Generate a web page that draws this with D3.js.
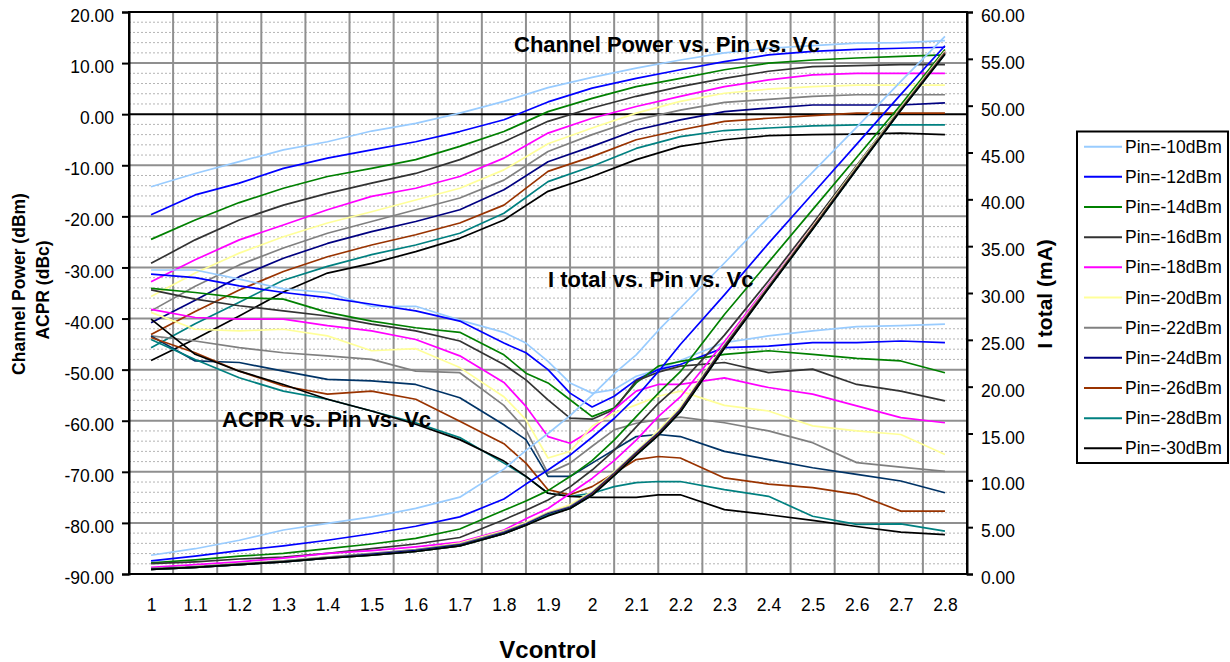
<!DOCTYPE html>
<html>
<head>
<meta charset="utf-8">
<script src="https://cdn.jsdelivr.net/npm/d3@7"></script>
<style>
  body { margin: 0; background: #fff; }
  svg text { font-family: "Liberation Sans", Arial, sans-serif; }
</style>
</head>
<body>
<div id="chart"></div>
<script>
// x values: channel power read every 0.1 V, ACPR and current a bit finer around the dip
const vcCoarse = [1.0, 1.1, 1.2, 1.3, 1.4, 1.5, 1.6, 1.7, 1.8, 1.9, 2.0, 2.1, 2.2, 2.3, 2.4, 2.5, 2.6, 2.7, 2.8];
const vcFine = [1.0, 1.1, 1.2, 1.3, 1.4, 1.5, 1.6, 1.7, 1.8, 1.85, 1.9, 1.95, 2.0, 2.05, 2.1, 2.15, 2.2, 2.3, 2.4, 2.5, 2.6, 2.7, 2.8];
const xTickLabels = ["1", "1.1", "1.2", "1.3", "1.4", "1.5", "1.6", "1.7", "1.8", "1.9", "2", "2.1", "2.2", "2.3", "2.4", "2.5", "2.6", "2.7", "2.8"];

const pinLabels = ["Pin=-10dBm", "Pin=-12dBm", "Pin=-14dBm", "Pin=-16dBm", "Pin=-18dBm", "Pin=-20dBm",
                   "Pin=-22dBm", "Pin=-24dBm", "Pin=-26dBm", "Pin=-28dBm", "Pin=-30dBm"];
const pinColors = ["#99ccff", "#0000ff", "#008000", "#333333", "#ff00ff", "#ffff99",
                   "#808080", "#000080", "#993300", "#008080", "#000000"];

// Channel power (dBm), left axis, on vcCoarse
const chPower = [
  [-14.2, -11.6, -9.3, -7.0, -5.4, -3.3, -1.8, 0.2, 2.5, 5.2, 7.2, 9.0, 10.6, 12.0, 12.9, 13.4, 13.9, 14.0, 14.4],
  [-19.7, -15.8, -13.5, -10.6, -8.6, -7.0, -5.4, -3.4, -1.1, 2.4, 5.1, 7.0, 8.7, 10.3, 11.6, 12.3, 12.7, 12.9, 13.1],
  [-24.5, -20.7, -17.3, -14.5, -12.2, -10.6, -8.9, -6.3, -3.4, 0.5, 3.1, 5.4, 7.0, 8.7, 10.0, 10.6, 11.0, 11.3, 11.6],
  [-29.2, -24.6, -20.7, -17.8, -15.5, -13.5, -11.6, -8.9, -5.4, -1.4, 1.2, 3.5, 5.4, 7.0, 8.4, 9.3, 9.5, 9.7, 9.7],
  [-32.8, -28.5, -24.6, -21.7, -18.7, -16.1, -14.5, -12.2, -8.6, -3.7, -0.8, 1.5, 3.5, 5.4, 6.7, 7.7, 8.0, 8.0, 8.0],
  [-35.7, -31.1, -27.2, -24.0, -21.3, -19.1, -16.8, -14.5, -10.9, -5.8, -2.7, 0.2, 2.5, 4.1, 4.9, 5.4, 5.7, 5.7, 5.7],
  [-38.5, -33.7, -29.5, -26.2, -23.3, -21.0, -18.7, -16.4, -12.9, -7.3, -4.0, -1.1, 0.8, 2.3, 2.9, 3.5, 3.8, 3.8, 3.8],
  [-40.8, -36.4, -31.8, -28.2, -25.3, -23.0, -21.0, -18.7, -14.8, -9.3, -6.3, -3.1, -1.1, 0.5, 1.2, 1.8, 1.8, 1.8, 2.2],
  [-43.1, -38.6, -34.4, -30.8, -27.9, -25.6, -23.6, -21.3, -17.8, -11.2, -8.3, -5.0, -3.1, -1.4, -0.8, -0.3, 0.2, 0.2, 0.2],
  [-45.7, -41.0, -36.8, -32.5, -29.8, -27.5, -25.6, -23.3, -19.4, -13.2, -10.2, -6.7, -4.4, -3.2, -2.7, -2.3, -2.1, -2.1, -2.1],
  [-48.2, -44.0, -39.5, -34.8, -31.1, -29.2, -26.9, -24.3, -20.7, -15.1, -12.2, -8.9, -6.3, -5.0, -4.2, -4.0, -3.9, -3.7, -4.0]
];

// ACPR (dBc), left axis, on vcFine
const acpr = [
  [-30.5, -30.5, -32.3, -34.2, -34.9, -37.6, -37.6, -40.3, -42.7, -44.8, -48.4, -52.6, -54.6, -53.9, -51.3, -50.0, -48.2, -44.7, -43.4, -42.4, -41.6, -41.4, -41.1],
  [-31.3, -32.0, -33.6, -34.9, -35.9, -37.2, -38.5, -40.5, -44.8, -46.7, -50.0, -54.6, -57.3, -55.2, -52.0, -50.0, -49.0, -45.7, -45.4, -44.7, -44.7, -44.4, -44.7],
  [-34.1, -34.9, -35.9, -36.2, -38.8, -40.5, -41.8, -42.7, -47.1, -50.7, -52.6, -55.9, -59.2, -57.5, -52.6, -49.3, -48.4, -47.0, -46.3, -47.0, -47.8, -48.3, -50.6],
  [-34.4, -36.2, -37.5, -38.5, -39.5, -41.1, -42.4, -44.4, -49.0, -52.0, -55.9, -59.5, -59.7, -57.8, -52.2, -50.5, -49.3, -48.6, -50.6, -49.9, -52.9, -54.2, -56.1],
  [-38.2, -39.8, -40.1, -40.1, -41.4, -42.4, -44.1, -47.3, -52.5, -57.2, -63.1, -64.4, -61.8, -57.8, -54.2, -52.9, -52.9, -51.6, -53.5, -54.8, -57.1, -59.4, -60.4],
  [-38.8, -42.1, -42.4, -42.1, -43.4, -46.3, -45.9, -49.6, -55.3, -59.8, -67.3, -66.0, -61.1, -58.5, -56.9, -55.2, -54.2, -57.0, -58.1, -61.0, -62.0, -62.7, -66.6],
  [-43.4, -44.4, -45.7, -46.7, -47.3, -48.0, -50.3, -50.6, -57.0, -61.8, -70.3, -68.3, -65.0, -61.8, -60.5, -59.8, -59.3, -60.4, -62.0, -64.3, -68.2, -69.1, -69.9],
  [-43.4, -48.3, -48.6, -50.3, -51.9, -52.2, -52.9, -55.5, -60.8, -63.7, -70.9, -70.9, -68.3, -65.7, -63.1, -62.7, -63.1, -66.0, -67.6, -69.2, -70.5, -71.8, -74.1],
  [-43.7, -46.7, -50.3, -53.2, -54.8, -54.2, -55.8, -60.1, -64.5, -68.3, -73.5, -74.5, -72.9, -70.3, -67.6, -67.0, -67.3, -71.2, -72.4, -73.1, -74.4, -77.7, -77.7],
  [-44.1, -48.0, -51.6, -54.2, -55.8, -58.1, -60.4, -63.3, -68.3, -70.9, -74.2, -74.8, -74.2, -72.9, -72.1, -71.9, -71.9, -73.5, -74.8, -78.7, -80.3, -80.2, -81.6],
  [-40.1, -47.0, -50.3, -52.9, -55.8, -58.1, -60.7, -63.7, -67.9, -70.9, -74.2, -74.8, -75.0, -75.0, -75.0, -74.5, -74.5, -77.4, -78.4, -79.5, -80.7, -81.8, -82.3]
];

// I total (mA), right axis, on vcFine
const iTotal = [
  [2.0, 2.7, 3.6, 4.7, 5.4, 6.1, 7.0, 8.2, 11.2, 13.2, 15.0, 16.9, 19.1, 21.4, 23.4, 26.0, 28.4, 33.2, 38.1, 42.9, 47.7, 52.6, 57.4],
  [1.4, 1.9, 2.5, 3.0, 3.6, 4.3, 5.1, 6.1, 8.0, 9.6, 11.1, 12.7, 14.6, 16.6, 18.9, 21.6, 24.5, 29.8, 35.3, 40.6, 45.9, 51.2, 56.4],
  [1.2, 1.5, 1.9, 2.2, 2.7, 3.2, 3.8, 4.8, 6.8, 7.8, 8.9, 10.4, 12.1, 14.3, 16.8, 19.3, 21.6, 27.7, 33.3, 38.9, 44.5, 50.1, 56.0],
  [1.1, 1.3, 1.6, 1.8, 2.2, 2.7, 3.2, 3.9, 5.8, 6.8, 7.9, 9.3, 11.1, 13.2, 15.7, 18.2, 20.3, 25.5, 31.3, 37.4, 43.6, 49.8, 55.8],
  [0.7, 1.0, 1.3, 1.7, 2.2, 2.5, 2.9, 3.4, 4.7, 5.9, 7.0, 8.6, 10.2, 12.1, 14.3, 16.8, 18.9, 24.8, 30.9, 37.1, 43.4, 49.6, 55.8],
  [0.5, 0.8, 1.1, 1.4, 1.8, 2.1, 2.6, 3.3, 4.6, 5.5, 6.6, 7.4, 8.8, 10.9, 13.1, 15.3, 17.8, 24.5, 30.8, 37.1, 43.5, 49.8, 55.8],
  [0.6, 0.8, 1.1, 1.4, 1.8, 2.2, 2.6, 3.2, 4.5, 5.4, 6.5, 7.2, 8.7, 10.8, 13.0, 15.1, 17.6, 24.4, 30.7, 37.0, 43.4, 49.7, 55.7],
  [0.5, 0.7, 1.0, 1.3, 1.7, 2.1, 2.5, 3.1, 4.4, 5.3, 6.4, 7.1, 8.6, 10.7, 12.9, 15.0, 17.5, 24.3, 30.6, 36.9, 43.3, 49.6, 55.6],
  [0.5, 0.7, 1.0, 1.3, 1.7, 2.0, 2.4, 3.0, 4.3, 5.2, 6.3, 7.0, 8.5, 10.6, 12.8, 14.9, 17.4, 24.2, 30.6, 36.9, 43.3, 49.6, 55.6],
  [0.5, 0.7, 1.0, 1.3, 1.7, 2.0, 2.4, 3.0, 4.3, 5.2, 6.3, 7.0, 8.4, 10.5, 12.7, 14.8, 17.3, 24.1, 30.5, 36.8, 43.2, 49.5, 55.5],
  [0.5, 0.7, 1.0, 1.3, 1.7, 2.0, 2.4, 3.0, 4.3, 5.2, 6.2, 7.0, 8.4, 10.5, 12.7, 14.8, 17.3, 24.1, 30.5, 36.8, 43.2, 49.5, 55.5]
];

const W = 1230, H = 662;
const plot = { left: 129, right: 967, top: 12, bottom: 574 };

const svg = d3.select("#chart")
    .append("svg")
    .attr("width", W)
    .attr("height", H);

// category-style x: each label sits in the middle of a 0.1 wide band
const x = d3.scaleLinear()
    .domain([0.95, 2.85])
    .range([plot.left, plot.right]);

const yLeft = d3.scaleLinear()
    .domain([-90, 20])
    .range([plot.bottom, plot.top]);

const yRight = d3.scaleLinear()
    .domain([0, 60])
    .range([plot.bottom, plot.top]);

const fmt2 = d => d3.format(".2f")(d).replace("\u2212", "-");

// minor dotted gridlines every 2 dB
svg.append("g")
    .selectAll("line")
    .data(d3.range(-88, 20, 2).filter(v => v % 10 !== 0))
    .join("line")
    .attr("x1", plot.left).attr("x2", plot.right)
    .attr("y1", d => yLeft(d)).attr("y2", d => yLeft(d))
    .style("stroke", "#b4b4b4")
    .style("stroke-width", 1)
    .style("stroke-dasharray", "2,2");

// major horizontal gridlines
svg.append("g")
    .selectAll("line")
    .data(d3.range(-80, 20, 10).filter(v => v !== 0))
    .join("line")
    .attr("x1", plot.left).attr("x2", plot.right)
    .attr("y1", d => yLeft(d)).attr("y2", d => yLeft(d))
    .style("stroke", "#8f8f8f")
    .style("stroke-width", 2);

// vertical gridlines between categories
svg.append("g")
    .selectAll("line")
    .data(d3.range(1, 19).map(i => 0.95 + i * 0.1))
    .join("line")
    .attr("x1", d => x(d)).attr("x2", d => x(d))
    .attr("y1", plot.top).attr("y2", plot.bottom)
    .style("stroke", "#8f8f8f")
    .style("stroke-width", 2);

// zero line
svg.append("line")
    .attr("x1", plot.left).attr("x2", plot.right)
    .attr("y1", yLeft(0)).attr("y2", yLeft(0))
    .style("stroke", "#000")
    .style("stroke-width", 2);

// plot frame
svg.append("rect")
    .attr("x", plot.left).attr("y", plot.top)
    .attr("width", plot.right - plot.left)
    .attr("height", plot.bottom - plot.top)
    .style("fill", "none")
    .style("stroke", "#000")
    .style("stroke-width", 2);

// axes
const leftAxis = d3.axisLeft(yLeft)
    .tickValues(d3.range(-90, 21, 10))
    .tickFormat(fmt2)
    .tickSize(7)
    .tickPadding(8);

const rightAxis = d3.axisRight(yRight)
    .tickValues(d3.range(0, 61, 5))
    .tickFormat(fmt2)
    .tickSize(6)
    .tickPadding(8);

const bottomAxis = d3.axisBottom(x)
    .tickValues(xTickLabels.map(Number))
    .tickFormat((d, i) => xTickLabels[i])
    .tickSize(0)
    .tickPadding(25);

function styleAxis(g) {
    g.select(".domain").style("stroke", "#000").style("stroke-width", 2);
    g.selectAll(".tick line").style("stroke", "#000").style("stroke-width", 2);
    g.selectAll("text")
        .style("font-family", "'Liberation Sans', Arial, sans-serif")
        .style("font-size", "17.5px")
        .style("fill", "#000");
}

svg.append("g")
    .attr("transform", `translate(${plot.left},0)`)
    .call(leftAxis)
    .call(styleAxis)
    .call(g => g.selectAll("text").attr("dy", "0.55em"));

svg.append("g")
    .attr("transform", `translate(${plot.right},0)`)
    .call(rightAxis)
    .call(styleAxis)
    .call(g => g.selectAll("text").attr("dy", "0.55em"));

svg.append("g")
    .attr("transform", `translate(0,${plot.bottom})`)
    .call(bottomAxis)
    .call(styleAxis)
    .call(g => g.select(".domain").remove());

// series
const lineLeftCoarse = d3.line()
    .x((d, i) => x(vcCoarse[i]))
    .y(d => yLeft(d));

const lineLeftFine = d3.line()
    .x((d, i) => x(vcFine[i]))
    .y(d => yLeft(d));

const lineRightFine = d3.line()
    .x((d, i) => x(vcFine[i]))
    .y(d => yRight(d));

const acprColors = pinColors.map((c, i) => i === 7 ? "#003366" : c);

function drawGroup(data, lineGen, colors) {
    svg.append("g")
        .selectAll("path")
        .data(data)
        .join("path")
        .attr("d", lineGen)
        .style("fill", "none")
        .style("stroke", (d, i) => colors[i])
        .style("stroke-width", 1.7)
        .style("stroke-linejoin", "round");
}

drawGroup(chPower, lineLeftCoarse, pinColors);
drawGroup(acpr, lineLeftFine, acprColors);
drawGroup(iTotal, lineRightFine, pinColors);

// in-plot titles
const notes = [
    { text: "Channel Power vs. Pin vs. Vc", x: 514, y: 52 },
    { text: "I total vs. Pin vs. Vc", x: 548, y: 287 },
    { text: "ACPR vs. Pin vs. Vc", x: 222, y: 427 }
];
svg.append("g")
    .selectAll("text")
    .data(notes)
    .join("text")
    .attr("x", d => d.x)
    .attr("y", d => d.y)
    .style("font-size", "22px")
    .style("font-weight", "bold")
    .text(d => d.text);

// axis titles
svg.append("text")
    .attr("x", 548).attr("y", 658)
    .attr("text-anchor", "middle")
    .style("font-size", "24px")
    .style("font-weight", "bold")
    .text("Vcontrol");

svg.append("text")
    .attr("transform", "translate(25,284) rotate(-90)")
    .attr("text-anchor", "middle")
    .style("font-size", "17.5px")
    .style("font-weight", "bold")
    .text("Channel Power (dBm)");

svg.append("text")
    .attr("transform", "translate(49,290) rotate(-90)")
    .attr("text-anchor", "middle")
    .style("font-size", "17.5px")
    .style("font-weight", "bold")
    .text("ACPR (dBc)");

svg.append("text")
    .attr("transform", "translate(1052,294) rotate(-90)")
    .attr("text-anchor", "middle")
    .style("font-size", "21px")
    .style("font-weight", "bold")
    .text("I total (mA)");

// legend
const legend = svg.append("g");
legend.append("rect")
    .attr("x", 1077).attr("y", 131.5)
    .attr("width", 151).attr("height", 331.5)
    .style("fill", "#fff")
    .style("stroke", "#000")
    .style("stroke-width", 2);

const items = legend.selectAll("g.item")
    .data(pinLabels)
    .join("g")
    .attr("class", "item")
    .attr("transform", (d, i) => `translate(0,${146.7 + i * 30.16})`);

items.append("line")
    .attr("x1", 1084).attr("x2", 1122)
    .style("stroke", (d, i) => pinColors[i])
    .style("stroke-width", 2);

items.append("text")
    .attr("x", 1125)
    .attr("y", 6)
    .style("font-size", "17.5px")
    .text(d => d);
</script>
</body>
</html>
